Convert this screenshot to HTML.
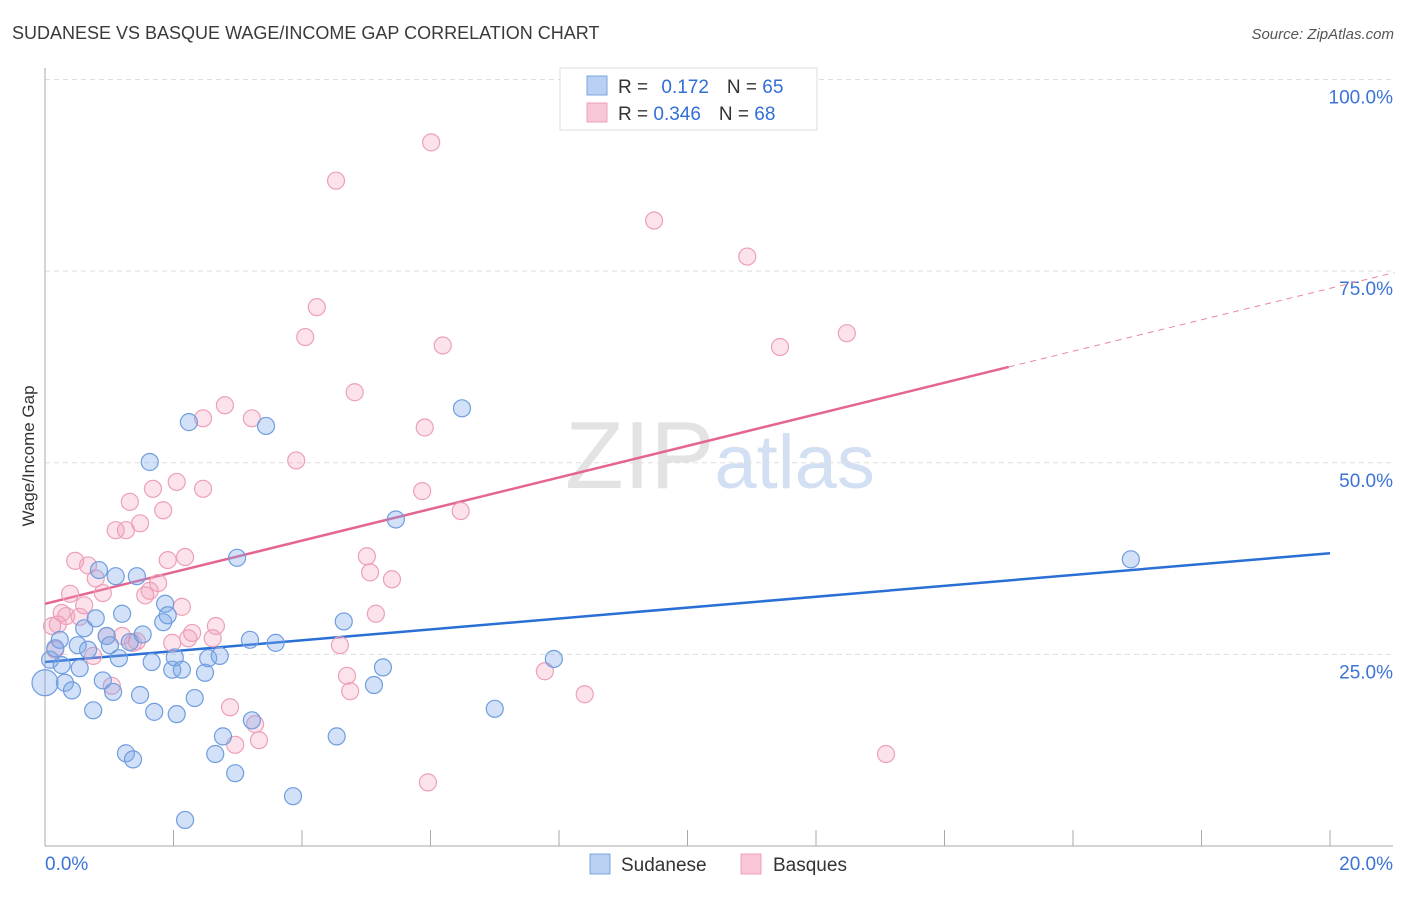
<!DOCTYPE html>
<html><head><meta charset="utf-8"><style>
body{margin:0;background:#fff;font-family:"Liberation Sans",sans-serif;}
svg text{font-family:"Liberation Sans",sans-serif;}
</style></head><body>
<svg id="chart" width="1406" height="892" xmlns="http://www.w3.org/2000/svg">
<text x="12" y="39" font-size="18" fill="#3a3a3a">SUDANESE VS BASQUE WAGE/INCOME GAP CORRELATION CHART</text>
<text x="1394" y="39" font-size="15" fill="#555" text-anchor="end" font-style="italic">Source: ZipAtlas.com</text>
<text x="720" y="488" font-size="96" text-anchor="middle" fill="#e3e3e3" font-family="Liberation Serif"><tspan>ZIP</tspan><tspan fill="#d3e0f3" font-family="Liberation Sans" font-size="76">atlas</tspan></text>
<text transform="translate(34,456) rotate(-90)" font-size="17" fill="#333" text-anchor="middle">Wage/Income Gap</text>
<g id="grid"></g><g id="axes"></g><g id="lines"></g><g id="pts"></g>
<g>
<rect x="560" y="68" width="257" height="62" fill="#fff" stroke="#ddd"/>
<rect x="587" y="76" width="20" height="19" fill="#b9d0f3" stroke="#7ba3e0"/>
<rect x="587" y="103" width="20" height="19" fill="#f8c6d6" stroke="#eda0b8"/>
<text x="618" y="93" font-size="19" fill="#333">R = <tspan fill="#2f6fd6" dx="8">0.172</tspan><tspan dx="18" fill="#333">N = </tspan><tspan fill="#2f6fd6">65</tspan></text>
<text x="618" y="120" font-size="19" fill="#333">R = <tspan fill="#2f6fd6">0.346</tspan><tspan dx="18" fill="#333">N = </tspan><tspan fill="#2f6fd6">68</tspan></text>
</g>
<g>
<rect x="590" y="854" width="20" height="20" fill="#b9d0f3" stroke="#7ba3e0"/>
<text x="621" y="871" font-size="19" fill="#333">Sudanese</text>
<rect x="741" y="854" width="20" height="20" fill="#f8c6d6" stroke="#eda0b8"/>
<text x="773" y="871" font-size="19" fill="#333">Basques</text>
</g>
</svg>
<script>
const NS="http://www.w3.org/2000/svg";
const yTicks=[25,50,75,100];
const yTickLabels=["25.0%","50.0%","75.0%","100.0%"];
const xTickLabels=["0.0%","20.0%"];
const blueX=[0,0.08,0.16,0.23,0.26,0.31,0.42,0.51,0.54,0.61,0.67,0.75,0.79,0.84,0.90,0.96,1.01,1.06,1.10,1.15,1.20,1.26,1.32,1.37,1.43,1.48,1.52,1.63,1.66,1.70,1.84,1.87,1.91,1.98,2.02,2.05,2.13,2.18,2.24,2.33,2.49,2.54,2.65,2.72,2.77,2.96,2.99,3.19,3.22,3.44,3.59,3.86,4.54,4.65,5.12,5.26,5.46,6.49,7.00,7.92,16.90];
const blueY=[21.3,24.3,25.8,26.9,23.6,21.3,20.3,26.2,23.2,28.4,25.6,17.7,29.7,36.0,21.6,27.4,26.2,20.1,35.2,24.5,30.3,12.1,26.6,11.3,35.2,19.7,27.6,50.1,24.0,17.5,29.2,31.6,30.1,23.0,24.6,17.2,23.0,3.4,55.3,19.3,22.6,24.5,12.0,24.8,14.3,9.5,37.6,26.9,16.4,54.8,26.5,6.5,14.3,29.3,21.0,23.3,42.6,57.1,17.9,24.4,37.4];
const pinkX=[0.11,0.16,0.20,0.26,0.33,0.39,0.47,0.54,0.61,0.67,0.75,0.79,0.90,0.96,1.04,1.10,1.20,1.26,1.32,1.37,1.43,1.48,1.56,1.63,1.68,1.76,1.84,1.91,1.98,2.05,2.13,2.18,2.23,2.29,2.46,2.46,2.61,2.66,2.80,2.88,2.96,3.22,3.27,3.33,3.91,4.05,4.23,4.53,4.59,4.70,4.75,4.82,5.01,5.06,5.15,5.40,5.87,5.91,5.96,6.01,6.19,6.47,7.78,8.40,9.48,10.93,11.44,12.48,13.09];
const pinkY=[28.7,25.6,28.9,30.4,30.0,32.9,37.2,29.9,31.4,36.6,24.8,34.9,33.0,27.4,20.9,41.2,27.4,41.2,44.9,26.5,26.7,42.1,32.7,33.3,46.6,34.3,43.8,37.3,26.5,47.5,31.2,37.7,27.1,27.8,46.6,55.8,27.1,28.7,57.5,18.1,13.2,55.8,15.9,13.8,50.3,66.4,70.3,86.8,26.2,22.2,20.2,59.2,37.8,35.7,30.3,34.8,46.3,54.6,8.3,91.8,65.3,43.7,22.8,19.8,81.6,76.9,65.1,66.9,12.0];
const blueTrend=[0,24.0,20,38.2];
const pinkTrend=[0,31.6,15.0,62.5,21,74.8];
const X=v=>45+v*64.25, Y=v=>846-v*7.665;
function mk(tag,attrs,parent){const e=document.createElementNS(NS,tag);for(const k in attrs)e.setAttribute(k,attrs[k]);document.getElementById(parent).appendChild(e);return e;}
yTicks.forEach((t,i)=>{
 const g=mk('line',{x1:45,x2:1393,y1:Y(t),y2:Y(t),stroke:'#ddd','stroke-dasharray':'5,4'},'grid');
 
 
 const tx=mk('text',{x:1393,y:Y(t)+24,'font-size':19,fill:'#3b73d6','text-anchor':'end'},'grid');
 tx.textContent=yTickLabels[i];
 
 
});
const ax=mk('line',{x1:45,x2:45,y1:68,y2:846,stroke:'#aaa'},'axes');


const bx=mk('line',{x1:45,x2:1393,y1:846,y2:846,stroke:'#aaa'},'axes');


for(let i=0;i<=10;i++){const t=mk('line',{x1:X(i*2),x2:X(i*2),y1:830,y2:846,stroke:'#aaa'},'axes');
 
 }
[[0,'start',45],[1,'end',1393]].forEach(([i,a,x])=>{const t=mk('text',{x:x,y:870,'font-size':19,fill:'#3b73d6','text-anchor':a},'axes');t.textContent=xTickLabels[i];
 
 });
const bl=mk('line',{x1:X(blueTrend[0]),y1:Y(blueTrend[1]),x2:X(blueTrend[2]),y2:Y(blueTrend[3]),stroke:'#2a6fd6','stroke-width':2.5},'lines');


const pl=mk('line',{x1:X(pinkTrend[0]),y1:Y(pinkTrend[1]),x2:X(pinkTrend[2]),y2:Y(pinkTrend[3]),stroke:'#e56591','stroke-width':2.5},'lines');


const pd=mk('line',{x1:X(pinkTrend[2]),y1:Y(pinkTrend[3]),x2:X(pinkTrend[4]),y2:Y(pinkTrend[5]),stroke:'#e8889f','stroke-width':1,'stroke-dasharray':'6,5'},'lines');


pinkX.forEach((x,i)=>{const c=mk('circle',{cx:X(x),cy:Y(pinkY[i]),r:8.5,fill:'rgba(242,160,188,0.3)',stroke:'#eda0b8','stroke-width':1.2},'pts');
 
 });
blueX.forEach((x,i)=>{const c=mk('circle',{cx:X(x),cy:Y(blueY[i]),r:i===0?13:8.5,fill:'rgba(125,168,232,0.35)',stroke:'#6f9ddf','stroke-width':1.2},'pts');
 
 });
</script>
</body></html>
